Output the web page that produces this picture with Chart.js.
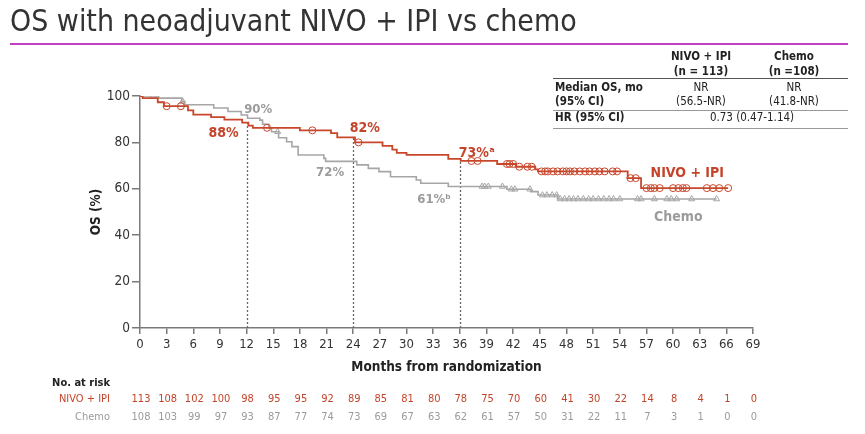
<!DOCTYPE html>
<html><head><meta charset="utf-8">
<script src="https://cdn.jsdelivr.net/npm/chart.js@4/dist/chart.umd.min.js"></script>
<style>
html,body{margin:0;padding:0;background:#fff;width:865px;height:434px;overflow:hidden;}
body{position:relative;font-family:"DejaVu Sans Condensed","DejaVu Sans",sans-serif;font-stretch:condensed;color:#222;}
#c{position:absolute;left:0;top:0;}
.t{position:absolute;white-space:nowrap;line-height:1;}
#title{left:10px;top:6px;font-size:30px;color:#333;}
#rule{position:absolute;left:10px;top:43px;width:838px;height:2px;background:#c23fc2;}
.hl{position:absolute;left:553px;width:295px;height:1px;background:#888;}
.c1{transform:translate(-50%,-50%);}
.l{transform:translate(0,-50%);}
.r{transform:translate(-100%,-50%);}
.tb{font-size:11.5px;}
.b{font-weight:bold;}
.risk{font-size:11px;}
</style></head>
<body>
<canvas id="c" width="865" height="434"></canvas>
<div id="title" class="t">OS with neoadjuvant NIVO + IPI vs chemo</div>
<div id="rule"></div>
<div id="tbl"></div>
<div id="risk"></div>
<script>
// ---- data ----
const nivoTimes = [0,0.3,2.0,2.7,5.4,6.0,8.0,9.5,11.5,12.2,12.7,18.0,21.5,22.2,24.2,27.3,28.4,28.9,30.0,34.7,36.1,40.2,42.3,44.5,44.8,54.9,56.4,66.2];
const nivoSurv  = [100,99.1,97.3,95.6,93.8,92.0,90.9,89.8,88.5,87.2,86.3,85.2,84.0,82.2,80.0,78.5,76.9,75.5,74.6,72.9,72.0,70.7,69.5,68.4,67.5,64.6,60.3,60.3];
const chemoTimes = [0,2.1,4.7,5.0,8.3,9.9,11.4,12.1,13.5,13.8,14.5,14.8,15.6,16.5,17.1,17.8,20.7,20.9,24.4,25.7,26.9,28.2,31.1,31.6,34.7,41.3,44.0,44.8,47.0,64.9];
const chemoSurv  = [100,99.1,97.7,96.2,94.8,93.3,91.8,90.4,89.6,87.8,86.2,84.6,82.0,80.3,78.2,74.6,73.1,71.8,70.3,68.8,67.4,65.2,63.8,62.4,61.0,59.8,58.8,57.3,55.6,55.6];
const nivoCensor = [3.0,4.6,14.3,19.4,24.6,37.3,38.0,41.3,41.6,42.0,42.7,43.6,44.1,45.2,45.6,45.9,46.5,47.0,47.6,48.0,48.4,48.9,49.5,50.1,50.6,51.2,51.7,52.3,53.2,53.7,55.2,55.8,57.0,57.5,57.9,58.5,60.0,60.6,61.1,61.5,63.8,64.5,65.2,66.2];
const chemoCensor = [1.5,4.8,15.5,38.5,38.8,39.2,40.8,41.8,42.2,43.9,45.3,45.8,46.4,46.9,47.3,47.8,48.3,48.8,49.3,49.9,50.5,51.0,51.6,52.2,52.8,53.3,54.0,56.0,56.4,57.9,59.3,59.8,60.4,62.1,64.9];
const riskMonths = [0,3,6,9,12,15,18,21,24,27,30,33,36,39,42,45,48,51,54,57,60,63,66,69];
const riskNivo  = [113,108,102,100,98,95,95,92,89,85,81,80,78,75,70,60,41,30,22,14,8,4,1,0];
const riskChemo = [108,103,99,97,93,87,77,74,73,69,67,63,62,61,57,50,31,22,11,7,3,1,0,0];
const landmarks = [12,24,36];
const labelTexts = ['90%','88%','82%','72%','73%ᵃ','61%ᵇ','NIVO + IPI','Chemo'];
const labelSeries = ['chemo','nivo','nivo','chemo','nivo','chemo','nivo','chemo'];
// ---- styles ----
const RED='#c8472b', GREY='#a6a6a6', REDT='#c4442a', GREYT='#9b9b9b';
const FONT='"DejaVu Sans Condensed","DejaVu Sans",sans-serif';
const labelPos = [[13.3,94.0],[9.4,84.0],[25.3,86.2],[21.4,66.8],[37.9,75.4],[33.1,55.2],[61.6,66.8],[60.6,47.8]];
const labelSize = [13,14,14,13,14,13,14,14];

function stepAt(T,S,t){let v=S[0];for(let i=0;i<T.length;i++){if(T[i]<=t+1e-9)v=S[i];}return v;}

const extras = {
  id:'extras',
  beforeDatasetsDraw(chart){
    const {ctx,scales:{x,y}}=chart;
    ctx.save();
    ctx.strokeStyle='#666';ctx.lineWidth=1.3;ctx.setLineDash([2,2]);
    landmarks.forEach(m=>{
      const px=Math.round(x.getPixelForValue(m))+0.5;
      ctx.beginPath();ctx.moveTo(px,y.getPixelForValue(0));ctx.lineTo(px,y.getPixelForValue(stepAt(nivoTimes,nivoSurv,m)));ctx.stroke();
    });
    ctx.restore();
  },
  afterDatasetsDraw(chart){
    const {ctx,scales:{x,y}}=chart;
    ctx.save();
    ctx.textAlign='center';ctx.textBaseline='middle';
    labelTexts.forEach((txt,i)=>{
      ctx.fillStyle = labelSeries[i]==='nivo'?REDT:GREYT;
      ctx.font = 'bold '+labelSize[i]+'px '+FONT;
      ctx.fillText(txt,x.getPixelForValue(labelPos[i][0]),y.getPixelForValue(labelPos[i][1]));
    });
    ctx.restore();
  }
};

const pts=(T,S)=>T.map((t,i)=>({x:t,y:S[i]}));
const cens=(C,T,S)=>C.map(t=>({x:t,y:stepAt(T,S,t)}));

const chart = new Chart(document.getElementById('c'),{
  type:'scatter',
  data:{datasets:[
    {data:cens(nivoCensor,nivoTimes,nivoSurv),showLine:false,pointStyle:'circle',pointRadius:3.5,pointBorderWidth:1,pointBorderColor:RED,pointBackgroundColor:'rgba(255,255,255,0)',order:1},
    {data:pts(nivoTimes,nivoSurv),showLine:true,stepped:true,borderColor:RED,borderWidth:1.8,pointRadius:0,fill:false,order:2},
    {data:cens(chemoCensor,chemoTimes,chemoSurv),showLine:false,pointStyle:'triangle',pointRadius:3.5,pointBorderWidth:1,pointBorderColor:GREY,pointBackgroundColor:'rgba(255,255,255,0)',order:3},
    {data:pts(chemoTimes,chemoSurv),showLine:true,stepped:true,borderColor:GREY,borderWidth:1.6,pointRadius:0,fill:false,order:4}
  ]},
  options:{
    responsive:false,animation:false,devicePixelRatio:1,
    layout:{padding:{left:88,top:96,right:112,bottom:58}},
    plugins:{legend:{display:false},tooltip:{enabled:false}},
    scales:{
      x:{type:'linear',min:0,max:69,
        ticks:{stepSize:3,font:{size:13,family:FONT},color:'#333',padding:3,maxRotation:0,autoSkip:false},
        grid:{drawOnChartArea:false,drawTicks:true,tickLength:6,color:'#7a7a7a',lineWidth:1.5},
        border:{color:'#7a7a7a',width:1.5},
        title:{display:true,text:'Months from randomization',font:{size:13.5,weight:'bold',family:FONT},color:'#222',padding:0},
        afterFit:s=>{s.height=48;}},
      y:{type:'linear',min:0,max:100,
        ticks:{stepSize:20,font:{size:13.5,family:FONT},color:'#333',padding:2},
        grid:{drawOnChartArea:false,drawTicks:true,tickLength:8,color:'#7a7a7a',lineWidth:1.5},
        border:{color:'#7a7a7a',width:1.5},
        title:{display:true,text:'OS (%)',font:{size:13.5,weight:'bold',family:FONT},color:'#222',padding:0},
        afterFit:s=>{s.width=52;}}
    }
  },
  plugins:[extras]
});

// ---- table ----
const tbl=document.getElementById('tbl');
function add(parent,txt,x,y,cls,color){const d=document.createElement('div');d.className='t '+cls;d.textContent=txt;d.style.left=x+'px';d.style.top=y+'px';if(color)d.style.color=color;parent.appendChild(d);return d;}
function hl(y,color,h){const d=document.createElement('div');d.className='hl';d.style.top=y+'px';d.style.background=color;if(h)d.style.height=h+'px';tbl.appendChild(d);}
add(tbl,'NIVO + IPI',701,57,'c1 tb b');add(tbl,'(n = 113)',701,72,'c1 tb b');
add(tbl,'Chemo',794,57,'c1 tb b');add(tbl,'(n =108)',794,72,'c1 tb b');
hl(78,'#555',1);
add(tbl,'Median OS, mo',555,88,'l tb b');add(tbl,'(95% CI)',555,102,'l tb b');
add(tbl,'NR',701,88,'c1 tb');add(tbl,'(56.5-NR)',701,102,'c1 tb');
add(tbl,'NR',794,88,'c1 tb');add(tbl,'(41.8-NR)',794,102,'c1 tb');
hl(110,'#999',1);
add(tbl,'HR (95% CI)',555,118,'l tb b');add(tbl,'0.73 (0.47-1.14)',752,118,'c1 tb');
hl(128,'#999',1);

// ---- risk table ----
const risk=document.getElementById('risk');
add(risk,'No. at risk',110,382,'r risk b','#222');
add(risk,'NIVO + IPI',110,398,'r risk',REDT);
add(risk,'Chemo',110,416,'r risk',GREYT);
const xs=chart.scales.x;
riskMonths.forEach((m,i)=>{
  const px=xs.getPixelForValue(m)+1;
  add(risk,String(riskNivo[i]),px,398,'c1 risk',REDT);
  add(risk,String(riskChemo[i]),px,416,'c1 risk',GREYT);
});
// fit title width
const tt=document.getElementById('title');
const w=tt.getBoundingClientRect().width; if(w>0){tt.style.fontSize=(30*567/w)+'px';}
</script>
</body></html>
